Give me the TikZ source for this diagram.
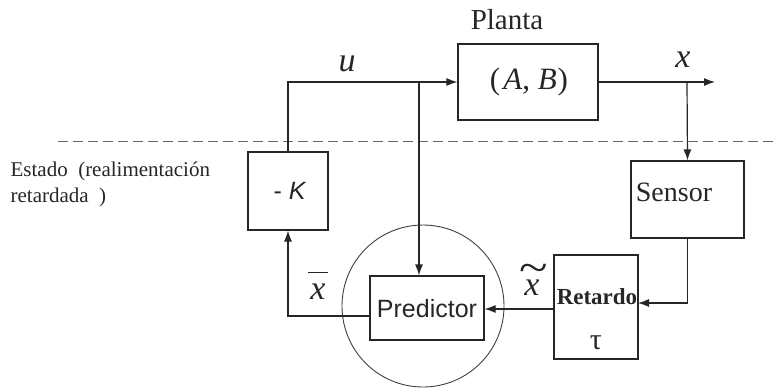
\documentclass[tikz,border=0pt]{standalone}
\usepackage{fontspec}
\usepackage{graphicx}
\setmainfont{Liberation Serif}
\setsansfont{Liberation Sans}
\usetikzlibrary{arrows.meta}
\begin{document}
\begin{tikzpicture}[x=1pt,y=-1pt,
  line width=1.2pt,
  blk/.style={draw=black!85,rectangle,inner sep=0pt,line width=1.2pt},
  arr/.style={-{Latex[length=11pt,width=8pt]},draw=black!85,line width=1.2pt},
  lbl/.style={inner sep=0pt,text=black!85}]
\useasboundingbox (0,0) rectangle (776,389);
% dashed separator
\draw[dash pattern=on 10pt off 5pt,draw=black!60,line width=1pt] (58,141) -- (776,141);
% blocks
\node[blk,minimum width=140pt,minimum height=76pt] (plant) at (528,82) {};
\node[lbl,font=\fontsize{31}{33}\selectfont] (planttxt) at (529,82) {(\kern3pt\textit{A}, \textit{B}\kern1pt)};
\node[lbl,font=\fontsize{29}{31}\selectfont] (planta) at (507,20) {Planta};
\node[blk,minimum width=80pt,minimum height=78pt] (negK) at (288,191) {};
\node[lbl,font=\sffamily\fontsize{25}{27}\selectfont] (negKtxt) at (290,191) {- \textit{K}};
\node[blk,minimum width=113pt,minimum height=77pt] (sensor) at (687.5,199.5) {};
\node[lbl,font=\fontsize{28}{30}\selectfont] (sensortxt) at (674,192) {Sensor};
\node[blk,minimum width=84pt,minimum height=104pt] (retardo) at (596,307) {};
\node[lbl,font=\bfseries\fontsize{23}{25}\selectfont] (retardotxt) at (597,297) {Retardo};
\node[lbl,font=\fontsize{30}{32}\selectfont] (tau) at (596,343) {τ};
\node[blk,minimum width=114pt,minimum height=64pt] (pred) at (427,308) {};
\node[lbl,font=\sffamily\fontsize{25}{27}\selectfont] (predtxt) at (427,309) {Predictor};
\node[draw=black!75,circle,line width=0.9pt,minimum size=162pt,inner sep=0pt] (circ) at (423,306) {};
% labels
\node[lbl,font=\fontsize{34}{36}\selectfont] (ulbl) at (347,64) {\textit{u}};
\node[lbl,font=\fontsize{34}{36}\selectfont] (xlbl) at (683,60) {\textit{x}};
\node[lbl,font=\fontsize{34}{36}\selectfont,anchor=base] (xbar) at (318,299) {\rlap{\hspace{-2.5pt}\rule[26pt]{20pt}{1.4pt}}\textit{x}};
\node[lbl,font=\fontsize{34}{36}\selectfont,anchor=base] (xtil) at (532,295) {\rlap{\hspace{-5pt}\raisebox{13pt}{\scalebox{1.55}[1.3]{\char"7E}}}\textit{x}};
\node[lbl,font=\fontsize{21}{26}\selectfont,align=left,anchor=north west] (estado) at (10,161) {Estado\ \ (realimentación\\retardada\ \ )};
% connectors
\coordinate (ubr) at (419,82);
\coordinate (xbr) at (687,82);
\coordinate (xend) at (715,82);
\draw[arr] (negK.north) |- (plant.west);
\draw[arr] (ubr) -- (ubr |- pred.north);
\draw[arr] (plant.east) -- (xend);
\draw[arr] (xbr) -- (sensor.north);
\coordinate (rin) at (638,303);
\draw[arr] (sensor.south) |- (rin);
\draw[arr] (retardo.west |- 0,309) -- (pred.east |- 0,309);
\coordinate (pout) at (370,316);
\draw[arr] (pout) -| (negK.south);
\end{tikzpicture}
\end{document}
